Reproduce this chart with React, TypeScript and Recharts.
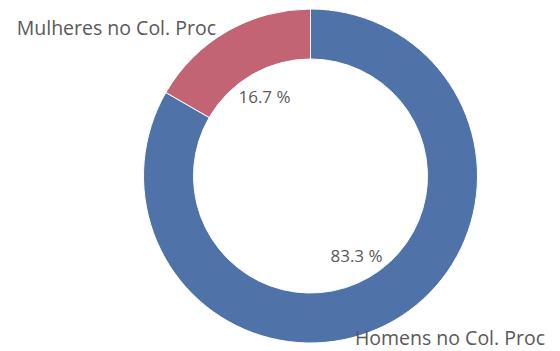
import React from 'react';
import { PieChart, Pie, Cell } from 'recharts';

// categories and counts
const categories = ['Homens no Col. Proc', 'Mulheres no Col. Proc'];
const counts = [5, 1];
const colors = ['#4f73a8', '#c36475'];

const data = categories.map((name, i) => ({ name, value: counts[i] }));
const total = counts.reduce((a, b) => a + b, 0);

const W = 560;
const H = 351;
const RAD = Math.PI / 180;
const textColor = '#595959';
const font = '"Open Sans", sans-serif';

const renderLabel = (props: any) => {
  const { cx, cy, midAngle, innerRadius, outerRadius, name, value } = props;
  const cos = Math.cos(-midAngle * RAD);
  const sin = Math.sin(-midAngle * RAD);
  // percentage sits just inside the hole
  const pr = innerRadius - 25;
  const px = cx + pr * cos;
  const py = cy + pr * sin;
  // name sits outside the rim, kept inside the chart
  const nr = outerRadius + 22;
  const ox = cx + nr * cos;
  const oy = Math.min(Math.max(cy + nr * sin, 27), H - 14);
  const right = cos >= 0;
  const pct = ((value / total) * 100).toFixed(1) + ' %';
  return (
    <g>
      <text x={px} y={py} textAnchor="middle" dominantBaseline="central" fill={textColor} fontSize={17} fontFamily={font}>
        {pct}
      </text>
      <text
        x={right ? W - 15 : ox}
        y={oy}
        textAnchor="end"
        dominantBaseline="central"
        fill={textColor}
        fontSize={19.5}
        fontFamily={font}
      >
        {name}
      </text>
    </g>
  );
};

const App: React.FC = () => {
  return (
    <div style={{ position: 'absolute', left: 0, top: 0, width: W, height: H, background: '#fff' }}>
      <PieChart width={W} height={H} margin={{ top: 0, right: 0, bottom: 0, left: 0 }}>
        <Pie
          data={data}
          dataKey="value"
          nameKey="name"
          cx={310.5}
          cy={176}
          outerRadius={167}
          innerRadius={117}
          startAngle={90}
          endAngle={-270}
          stroke="#fff"
          strokeWidth={1}
          label={renderLabel}
          labelLine={false}
          isAnimationActive={false}
        >
          {data.map((d, i) => (
            <Cell key={d.name} fill={colors[i]} />
          ))}
        </Pie>
      </PieChart>
    </div>
  );
};

export default App;
